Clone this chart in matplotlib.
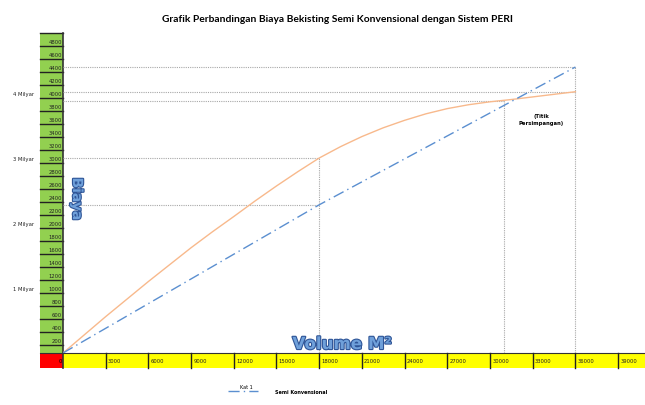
import matplotlib.pyplot as plt
import matplotlib.patheffects as pe
from matplotlib.patches import Rectangle

# data (volume m2 vs cost, x1 million rupiah)
volume = [0, 1500, 3000, 4500, 6000, 7500, 9000, 10500, 12000, 13500, 15000, 16500,
          18000, 19500, 21000, 22500, 24000, 25500, 27000, 28500, 30000, 31500,
          33000, 34500, 36000]
peri = [0, 280, 560, 830, 1100, 1360, 1620, 1865, 2100, 2340, 2570, 2790,
        3000, 3175, 3330, 3465, 3580, 3680, 3760, 3820, 3865, 3900,
        3940, 3980, 4020]
semi_x = [0, 18000, 36000]
semi_y = [0, 2280, 4400]

y_ticks = list(range(200, 4801, 200))
x_ticks = list(range(3000, 39001, 3000))
milyar = [1000, 2000, 3000, 4000]
milyar_labels = ['1 Milyar', '2 Milyar', '3 Milyar', '4 Milyar']

# reference points (x, y) marked by dotted guides
guides = [(18000, 3000), (18000, 2280), (31000, 3870), (36000, 4020), (36000, 4400)]

W, H = 645, 406
fig = plt.figure(figsize=(W / 100, H / 100), dpi=100)
ax = fig.add_axes([63 / W, (H - 354) / H, 582 / W, 324 / H])
ax.set_xlim(0, 40890)
ax.set_ylim(0, 4985)
ax.patch.set_alpha(0)
for s in ax.spines.values():
    s.set_visible(False)
ax.set_xticks([])
ax.set_yticks([])

ytr = ax.get_yaxis_transform()
colw = 23 / 582

# green value column
ax.add_patch(Rectangle((-colw, 0), colw, 4923, transform=ytr, clip_on=False,
                       facecolor='#92D050', edgecolor='none', zorder=1))
for v in y_ticks + [5000]:
    ax.plot([-colw, 0], [v - 77, v - 77], transform=ytr, clip_on=False,
            color='#222222', lw=1.0, zorder=2)
for v in y_ticks:
    ax.text(-0.002, v, str(v), transform=ytr, ha='right', va='center',
            fontsize=3.8, color='#222222', zorder=3)
ax.plot([0, 0], [-230, 4923], color='#333333', lw=1.2, clip_on=False, zorder=2)

for v, lab in zip(milyar, milyar_labels):
    ax.text(-29 / 582, v, lab, transform=ytr, ha='right', va='center',
            fontsize=3.8, color='#222222')

# bottom strip
ax.add_patch(Rectangle((-colw, -230), colw, 230, transform=ytr, clip_on=False,
                       facecolor='#FF0000', edgecolor='none', zorder=1))
ax.add_patch(Rectangle((0, -230), 1, 230, transform=ytr, clip_on=False,
                       facecolor='#FFFF00', edgecolor='none', zorder=1))
ax.plot([-colw, 1], [0, 0], transform=ytr, clip_on=False, color='#333333', lw=0.8, zorder=2)
ax.text(-0.002, -115, '0', transform=ytr, ha='right', va='center', fontsize=3.8, zorder=3)
for v in x_ticks:
    ax.plot([v, v], [-230, 0], color='#222222', lw=1.0, clip_on=False, zorder=2)
    ax.text(v + 150, -115, str(v), ha='left', va='center', fontsize=3.8,
            color='#222222', clip_on=False, zorder=3)

# dotted guides
for gx, gy in guides:
    ax.plot([0, gx], [gy, gy], color='#A8A8A8', lw=0.8, ls=(0, (1, 1)), zorder=2)
for gx, gy in [(18000, 3000), (31000, 3870), (36000, 4400)]:
    ax.plot([gx, gx], [0, gy], color='#A8A8A8', lw=0.8, ls=(0, (1, 1)), zorder=2)

# data lines
ax.plot(volume, peri, color='#F8B98C', lw=1.0, zorder=4)
semi, = ax.plot(semi_x, semi_y, color='#5B8FD0', lw=1.0, ls=(0, (8, 3, 1, 3)),
                zorder=4, label='Semi Konvensional')

ax.text(33600, 3600, '(Titik\nPersimpangan)', ha='center', va='center',
        fontsize=3.8, fontweight='bold', linespacing=1.6)

fig.text(338 / W, 1 - 19 / H,
         'Grafik Perbandingan Biaya Bekisting Semi Konvensional dengan Sistem PERI',
         ha='center', va='center', fontsize=7.4, fontweight='bold', family='Lato')

outline = [pe.withStroke(linewidth=1.6, foreground='#2F5597')]
fig.text(77 / W, 1 - 200 / H, 'Biaya', rotation=-90, ha='center', va='center',
         fontsize=10, fontweight='bold', color='#6FA0DA', path_effects=outline)
fig.text(342 / W, 1 - 345 / H, 'Volume M²', ha='center', va='center',
         fontsize=12, fontweight='bold', color='#6FA0DA', path_effects=outline)

leg = ax.legend(handles=[semi], title='Kat 1', loc='center left', frameon=False,
                bbox_to_anchor=(226 / W, 1 - 390 / H), bbox_transform=fig.transFigure,
                fontsize=3.5, title_fontsize=3.5, handlelength=6, handletextpad=3.5,
                borderpad=0, labelspacing=0, alignment='left')
leg.get_title().set_position((12, 0))
for t in leg.get_texts():
    t.set_fontweight('bold')

fig.savefig('out.png', dpi=100)
